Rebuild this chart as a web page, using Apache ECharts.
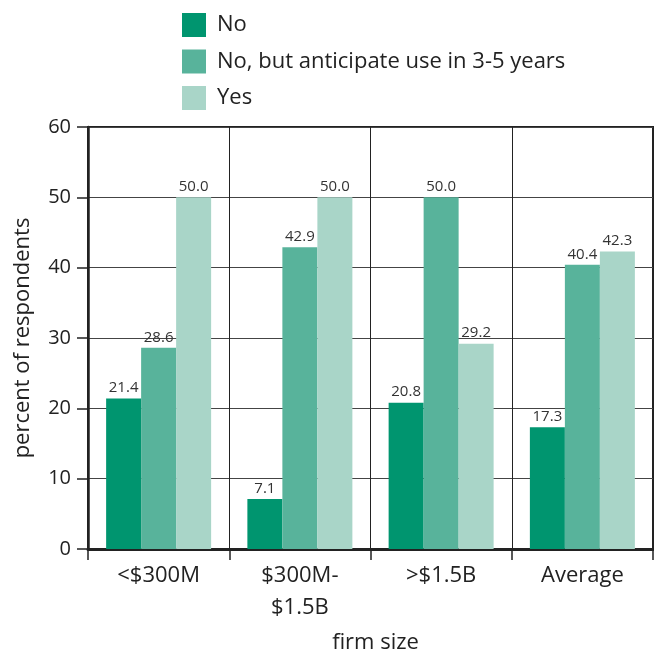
<!DOCTYPE html>
<html>
<head>
<meta charset="utf-8">
<script src="https://cdn.jsdelivr.net/npm/echarts@6/dist/echarts.min.js"></script>
<style>
  html, body { margin: 0; padding: 0; background: #fff; }
  #main { width: 654px; height: 652px; }
</style>
</head>
<body>
<div id="main"></div>
<script>
// 数据
var categories = ['<$300M', '$300M-\n$1.5B', '>$1.5B', 'Average'];
var seriesNames = ['No', 'No, but anticipate use in 3-5 years', 'Yes'];
var noValues = [21.4, 7.1, 20.8, 17.3];
var anticipateValues = [28.6, 42.9, 50.0, 40.4];
var yesValues = [50.0, 50.0, 29.2, 42.3];
var colors = ['#00956f', '#58b39b', '#a9d5c8'];

var font = "'Open Sans', sans-serif";

function bar(name, data, color) {
  return {
    name: name,
    type: 'bar',
    data: data,
    barWidth: 35,
    barGap: 0,
    itemStyle: { color: color },
    label: {
      show: true,
      position: 'top',
      distance: 3,
      color: '#333',
      fontSize: 15,
      fontFamily: font,
      formatter: function (p) { return p.value.toFixed(1); }
    }
  };
}

var myChart = echarts.init(document.getElementById('main'));
var option = {
  animation: false,
  textStyle: { fontFamily: font },
  legend: {
    orient: 'vertical',
    left: 182,
    top: 13,
    padding: 0,
    itemWidth: 24,
    itemHeight: 24,
    itemGap: 12.5,
    icon: 'rect',
    textStyle: { fontSize: 22, color: '#222', fontFamily: font, padding: [2, 0, 0, 6] },
    data: seriesNames
  },
  grid: {
    left: 88,
    right: 1,
    top: 127,
    bottom: 103,
    outerBoundsMode: 'none',
    show: true,
    borderColor: '#222',
    borderWidth: 2
  },
  xAxis: {
    type: 'category',
    data: categories,
    name: 'firm size',
    nameLocation: 'middle',
    nameGap: 83,
    nameTextStyle: { fontSize: 22, color: '#222', fontFamily: font, padding: [0, 0, 0, 10] },
    axisLine: { lineStyle: { color: '#222', width: 3 } },
    axisTick: { show: true, length: 11, lineStyle: { color: '#222', width: 1.5 } },
    axisLabel: { fontSize: 22, color: '#222', margin: 11, lineHeight: 32, fontFamily: font },
    splitLine: { show: true, lineStyle: { color: '#222', width: 1 } }
  },
  yAxis: {
    type: 'value',
    min: 0,
    max: 60,
    interval: 10,
    name: 'percent of respondents',
    nameLocation: 'middle',
    nameGap: 54,
    nameTextStyle: { fontSize: 22, color: '#222', fontFamily: font },
    axisLine: { show: true, lineStyle: { color: '#222', width: 2.5 } },
    axisTick: { show: true, length: 11, lineStyle: { color: '#222', width: 1.5 } },
    axisLabel: { fontSize: 20, color: '#222', margin: 17, fontFamily: font },
    splitLine: { show: true, lineStyle: { color: '#444', width: 1 } }
  },
  series: [
    bar(seriesNames[0], noValues, colors[0]),
    bar(seriesNames[1], anticipateValues, colors[1]),
    bar(seriesNames[2], yesValues, colors[2])
  ]
};
myChart.setOption(option);
</script>
</body>
</html>
